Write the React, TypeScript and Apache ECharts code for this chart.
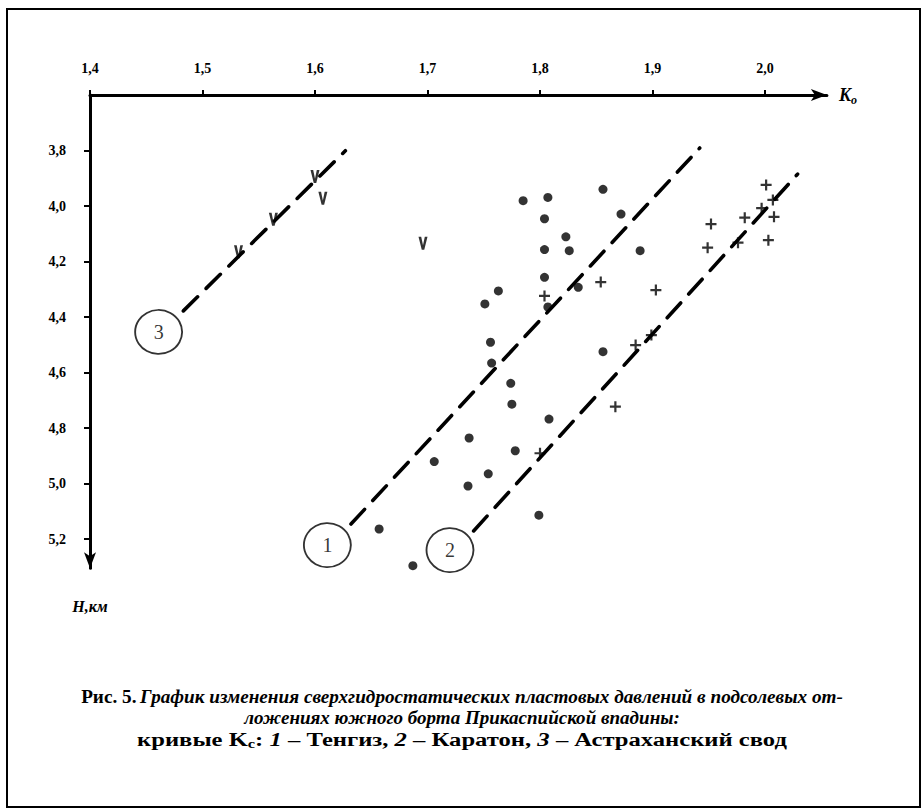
import React, { useEffect, useRef } from 'react';
import * as echarts from 'echarts';

// Тенгиз (dots)
const tenggizDots: [number, number][] = [
  [1.785, 3.981], [1.807, 3.969], [1.856, 3.94], [1.804, 4.046], [1.872, 4.029],
  [1.823, 4.111], [1.804, 4.157], [1.826, 4.161], [1.889, 4.161], [1.804, 4.257],
  [1.763, 4.306], [1.751, 4.353], [1.834, 4.293], [1.807, 4.364], [1.756, 4.491],
  [1.757, 4.566], [1.856, 4.525], [1.774, 4.639], [1.775, 4.714], [1.808, 4.768],
  [1.737, 4.836], [1.778, 4.882], [1.706, 4.921], [1.754, 4.965], [1.736, 5.009],
  [1.799, 5.114], [1.657, 5.164], [1.687, 5.296],
];

// Каратон (crosses)
const karatonCrosses: [number, number][] = [
  [1.804, 4.324], [1.854, 4.274], [1.903, 4.303], [1.899, 4.465], [1.885, 4.501],
  [1.8, 4.891], [1.867, 4.723], [2.001, 3.924], [2.007, 3.978], [1.997, 4.008],
  [1.982, 4.042], [2.008, 4.039], [1.952, 4.065], [2.003, 4.123], [1.976, 4.132],
  [1.949, 4.15],
];

// Астраханский свод (V marks)
const astrakhanMarks: [number, number][] = [
  [1.6, 3.894], [1.607, 3.972], [1.563, 4.048], [1.532, 4.165], [1.696, 4.134],
];

// Kс curves
const curve1: [number, number][] = [[1.632, 5.146], [1.942, 3.791]];
const curve2: [number, number][] = [[1.741, 5.171], [2.029, 3.885]];
const curve3: [number, number][] = [[1.483, 4.378], [1.627, 3.801]];

const curveLabels = [
  { name: '1', value: [1.611, 5.222] },
  { name: '2', value: [1.72, 5.24] },
  { name: '3', value: [1.461, 4.454] },
];

const xMin = 1.4;
const xMax = 2.055;
const yMin = 3.6;
const yMax = 5.305;
const xStep = 0.1;
const yStep = 0.2;

const captionLine1Lead = 'Рис. 5.';
const captionLine1 = 'График изменения сверхгидростатических пластовых давлений в подсолевых от-';
const captionLine2 = 'ложениях южного борта Прикаспийской впадины:';
const captionLine3Parts = ['кривые K', 'с', ': ', '1', ' – Тенгиз, ', '2', ' – Каратон, ', '3', ' – Астраханский свод'];

const SERIF = 'Liberation Serif';

const plusPath = 'path://M4,0 L6,0 L6,4 L10,4 L10,6 L6,6 L6,10 L4,10 L4,6 L0,6 L0,4 L4,4 Z';
const vPath = 'path://M0,0 L3,0 L5,8 L7,0 L10,0 L6.4,12 L3.6,12 Z';

const PX_X = 1125;
const PX_Y = 277.5;

const CAP_SIZE = 18;
const CAP_W1 = 763;
const CAP_W2 = 436;
const CAP_W3 = 650;

function measure(segs: [string, string][]): number {
  const c = document.createElement('canvas').getContext('2d');
  if (!c) return 1;
  let w = 0;
  for (const [font, t] of segs) {
    c.font = font;
    w += c.measureText(t).width;
  }
  return w;
}

export default function App() {
  const ref = useRef<HTMLDivElement>(null);
  useEffect(() => {
    if (!ref.current) return;
    const chart = echarts.init(ref.current, null, { renderer: 'svg' });
    const fmt = (v: number) => v.toFixed(1).replace('.', ',');
    const fB = `bold ${CAP_SIZE}px ${SERIF}`;
    const fBI = `italic bold ${CAP_SIZE}px ${SERIF}`;
    const fSub = `bold 12px ${SERIF}`;
    const w1 = measure([[fB, captionLine1Lead + ' '], [fBI, captionLine1]]);
    const w2 = measure([[fBI, captionLine2]]);
    const p = captionLine3Parts;
    const w3 = measure([
      [fB, p[0]], [fSub, p[1]], [fB, p[2]], [fBI, p[3]], [fB, p[4]], [fBI, p[5]], [fB, p[6]], [fBI, p[7]], [fB, p[8]],
    ]);
    const lineSeries = (data: [number, number][]) => ({
      type: 'line',
      data,
      showSymbol: false,
      symbol: 'none',
      silent: true,
      z: 2,
      lineStyle: { color: '#000', width: 3.6, type: [20, 12], cap: 'round' },
    });
    const lbl = {
      color: '#000',
      fontFamily: SERIF,
      fontWeight: 'bold',
      fontSize: 14,
    };
    chart.setOption({
      animation: false,
      backgroundColor: '#fff',
      grid: {
        left: 90,
        top: 95,
        width: (xMax - xMin) * PX_X,
        height: (yMax - yMin) * PX_Y,
        containLabel: false,
      },
      xAxis: {
        type: 'value',
        position: 'top',
        min: xMin,
        max: xMax,
        interval: xStep,
        splitLine: { show: false },
        axisLine: {
          show: true,
          onZero: false,
          symbol: ['none', 'arrow'],
          symbolSize: [9, 16],
          lineStyle: { color: '#000', width: 3 },
        },
        axisTick: { show: true, length: 5, lineStyle: { color: '#000', width: 2 } },
        axisLabel: {
          show: true,
          margin: 20,
          showMaxLabel: false,
          formatter: (v: number) => fmt(v),
          ...lbl,
        },
        name: '{k|K}{o|o}',
        nameLocation: 'end',
        nameGap: 12,
        nameTextStyle: {
          rich: {
            k: { fontFamily: SERIF, fontStyle: 'italic', fontWeight: 'bold', fontSize: 18, color: '#000' },
            o: { fontFamily: SERIF, fontStyle: 'italic', fontWeight: 'bold', fontSize: 12, color: '#000', padding: [10, 0, 0, 0] },
          },
        },
      },
      yAxis: {
        type: 'value',
        inverse: true,
        min: yMin,
        max: yMax,
        interval: yStep,
        splitLine: { show: false },
        axisLine: {
          show: true,
          onZero: false,
          symbol: ['arrow', 'none'],
          symbolSize: [9, 16],
          lineStyle: { color: '#000', width: 3 },
        },
        axisTick: { show: true, length: 6, lineStyle: { color: '#000', width: 2 } },
        axisLabel: {
          show: true,
          margin: 24,
          showMinLabel: false,
          showMaxLabel: false,
          formatter: (v: number) => fmt(v),
          ...lbl,
        },
        name: 'H,км',
        nameLocation: 'end',
        nameGap: 30,
        nameTextStyle: {
          fontFamily: SERIF,
          fontStyle: 'italic',
          fontWeight: 'bold',
          fontSize: 16,
          color: '#000',
          align: 'center',
        },
      },
      series: [
        lineSeries(curve1),
        lineSeries(curve2),
        lineSeries(curve3),
        {
          name: 'Тенгиз',
          type: 'scatter',
          data: tenggizDots,
          symbol: 'circle',
          symbolSize: 9,
          z: 3,
          itemStyle: { color: '#000' },
        },
        {
          name: 'Каратон',
          type: 'scatter',
          data: karatonCrosses,
          symbol: plusPath,
          symbolSize: 11,
          z: 3,
          itemStyle: { color: '#000' },
        },
        {
          name: 'Астраханский свод',
          type: 'scatter',
          data: astrakhanMarks,
          symbol: vPath,
          symbolSize: [9, 13],
          z: 3,
          itemStyle: { color: '#000' },
        },
        {
          type: 'scatter',
          data: curveLabels,
          symbol: 'circle',
          symbolSize: [47, 44],
          z: 4,
          itemStyle: { color: '#fff', borderColor: '#000', borderWidth: 1.8 },
          label: {
            show: true,
            position: 'inside',
            formatter: (q: any) => q.name,
            fontFamily: SERIF,
            fontSize: 20,
            color: '#000',
          },
        },
      ],
      graphic: [
        {
          type: 'rect',
          shape: { x: 7, y: 9, width: 913, height: 798 },
          style: { fill: 'none', stroke: '#000', lineWidth: 2 },
          silent: true,
        },
        {
          type: 'text',
          x: 462,
          y: 697,
          scaleX: CAP_W1 / w1,
          style: {
            text: `{b|${captionLine1Lead}} {bi|${captionLine1}}`,
            textAlign: 'center',
            textVerticalAlign: 'middle',
            rich: {
              b: { fontFamily: SERIF, fontWeight: 'bold', fontSize: CAP_SIZE, fill: '#000' },
              bi: { fontFamily: SERIF, fontWeight: 'bold', fontStyle: 'italic', fontSize: CAP_SIZE, fill: '#000' },
            },
          },
        },
        {
          type: 'text',
          x: 462,
          y: 718,
          scaleX: CAP_W2 / w2,
          style: {
            text: captionLine2,
            textAlign: 'center',
            textVerticalAlign: 'middle',
            fontFamily: SERIF,
            fontWeight: 'bold',
            fontStyle: 'italic',
            fontSize: CAP_SIZE,
            fill: '#000',
          },
        },
        {
          type: 'text',
          x: 462,
          y: 740,
          scaleX: CAP_W3 / w3,
          style: {
            text:
              `{b|${p[0]}}{sub|${p[1]}}{b|${p[2]}}` +
              `{i|${p[3]}}{b|${p[4]}}{i|${p[5]}}` +
              `{b|${p[6]}}{i|${p[7]}}{b|${p[8]}}`,
            textAlign: 'center',
            textVerticalAlign: 'middle',
            rich: {
              b: { fontFamily: SERIF, fontWeight: 'bold', fontSize: CAP_SIZE, fill: '#000' },
              i: { fontFamily: SERIF, fontWeight: 'bold', fontStyle: 'italic', fontSize: CAP_SIZE, fill: '#000' },
              sub: { fontFamily: SERIF, fontWeight: 'bold', fontSize: 12, fill: '#000', padding: [8, 0, 0, 0] },
            },
          },
        },
      ],
    });
    return () => chart.dispose();
  }, []);
  return (
    <div
      ref={ref}
      style={{ position: 'absolute', left: 0, top: 0, width: 923, height: 810, background: '#fff' }}
    />
  );
}
